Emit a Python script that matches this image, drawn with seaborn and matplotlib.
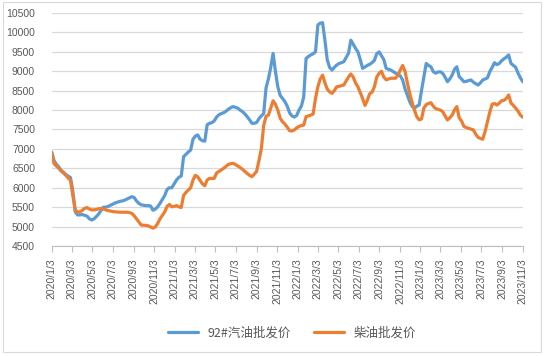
import numpy as np
import pandas as pd
import matplotlib
matplotlib.use("Agg")
import matplotlib.pyplot as plt
import seaborn as sns

# weekly wholesale prices, 2020/1/3 .. 2023/11/3 (yuan/t)
gasoline = [6920, 6700, 6600, 6540, 6450, 6400, 6340, 6300, 6260, 5900,
            5380, 5300, 5300, 5310, 5290, 5270, 5200, 5170, 5200, 5260,
            5330, 5420, 5500, 5500, 5520, 5550, 5580, 5610, 5630, 5650,
            5660, 5680, 5710, 5740, 5770, 5750, 5660, 5600, 5560, 5550,
            5540, 5540, 5530, 5420, 5450, 5510, 5600, 5700, 5800, 5960,
            6000, 6000, 6100, 6200, 6270, 6300, 6800, 6860, 6920, 6970,
            7250, 7330, 7360, 7250, 7210, 7200, 7620, 7660, 7675, 7720,
            7820, 7880, 7910, 7930, 7970, 8020, 8060, 8090, 8070, 8050,
            8000, 7960, 7900, 7830, 7750, 7660, 7660, 7680, 7780, 7850,
            7910, 8570, 8800, 9100, 9460, 8990, 8600, 8380, 8300, 8220,
            8100, 7930, 7850, 7820, 7860, 8000, 8100, 8340, 9330, 9380,
            9420, 9450, 9500, 10190, 10240, 10250, 9800, 9290, 9100, 9030,
            9100, 9160, 9200, 9220, 9245, 9350, 9460, 9800, 9700, 9590,
            9500, 9300, 9075, 9110, 9150, 9180, 9220, 9280, 9450, 9500,
            9400, 9300, 9075, 9050, 9030, 8990, 8950, 8920, 8880, 8775,
            8550, 8380, 8215, 8100, 8045, 8100, 8130, 8500, 8850, 9200,
            9150, 9115, 8990, 8950, 8980, 8985, 8945, 8850, 8730, 8800,
            8900, 9050, 9115, 8860, 8800, 8730, 8740, 8760, 8775, 8720,
            8680, 8645, 8700, 8775, 8800, 8830, 8990, 9100, 9220, 9170,
            9200, 9270, 9320, 9360, 9420, 9200, 9150, 9100, 8950, 8830,
            8730]

diesel = [6900, 6620, 6560, 6500, 6430, 6380, 6320, 6250, 6190, 5800,
          5430, 5370, 5380, 5420, 5470, 5490, 5450, 5430, 5430, 5440,
          5460, 5470, 5450, 5430, 5410, 5400, 5385, 5380, 5375, 5370,
          5370, 5370, 5370, 5360, 5340, 5280, 5200, 5120, 5040, 5035,
          5030, 5020, 4990, 4960, 4990, 5080, 5200, 5290, 5380, 5520,
          5570, 5510, 5520, 5540, 5510, 5490, 5800, 5880, 5940, 6000,
          6200, 6320, 6280, 6190, 6100, 6050, 6200, 6240, 6240, 6240,
          6380, 6420, 6460, 6500, 6550, 6600, 6620, 6630, 6600, 6560,
          6520, 6475, 6420, 6370, 6320, 6285, 6350, 6420, 6700, 7000,
          7600, 7840, 7870, 8050, 8240, 8150, 8000, 7790, 7700, 7640,
          7560, 7470, 7460, 7490, 7540, 7580, 7600, 7615, 7830, 7850,
          7870, 7900, 8300, 8600, 8800, 8900, 8700, 8540, 8470, 8430,
          8500, 8600, 8610, 8630, 8645, 8750, 8850, 8930, 8850, 8700,
          8600, 8450, 8300, 8120, 8250, 8420, 8460, 8600, 8850, 8950,
          9000, 8850, 8780, 8800, 8820, 8820, 8820, 8900, 9030, 9150,
          9000, 8700, 8430, 8200, 8000, 7830, 7750, 7770, 8050, 8140,
          8170, 8190, 8100, 8040, 8020, 8000, 7960, 7850, 7745, 7800,
          7870, 8000, 8090, 7800, 7720, 7580, 7550, 7530, 7510, 7490,
          7380, 7300, 7270, 7250, 7450, 7700, 7950, 8150, 8170, 8130,
          8180, 8240, 8250, 8300, 8390, 8180, 8120, 8050, 7970, 7870,
          7815]

dates = pd.date_range("2020-01-03", periods=len(gasoline), freq="7D")
tick_dates = [pd.Timestamp(y, m, 3) for y in range(2020, 2024) for m in range(1, 13, 2)]
tick_labels = [f"{d.year}/{d.month}/{d.day}" for d in tick_dates]

df = pd.DataFrame({"date": dates, "92#汽油批发价": gasoline, "柴油批发价": diesel})
long_df = df.melt(id_vars="date", var_name="series", value_name="price")

sns.set_style("white")
plt.rcParams["font.family"] = ["Noto Sans CJK SC", "DejaVu Sans"]

fig = plt.figure(figsize=(5.44, 3.56), dpi=100)
ax = fig.add_axes([0.095, 0.309, 0.866, 0.6545])

sns.lineplot(data=long_df, x="date", y="price", hue="series",
             palette=["#5B9BD5", "#ED7D31"], linewidth=2.3, ax=ax)

ax.set_ylim(4500, 10500)
ax.set_yticks(np.arange(4500, 10501, 500))
ax.set_xlim(dates[0], dates[-1])
ax.set_xticks(tick_dates)
ax.set_xticklabels(tick_labels, rotation=90, fontsize=7.5, color="#595959",
                   family=["Liberation Sans", "DejaVu Sans"])
ax.tick_params(axis="y", labelsize=7.5, labelcolor="#595959", length=0, pad=12)
for lbl in ax.get_yticklabels():
    lbl.set_family(["Liberation Sans", "DejaVu Sans"])
ax.tick_params(axis="x", length=4, width=0.8, color="#bfbfbf", pad=5, bottom=True)
ax.grid(axis="y", color="#d9d9d9", linewidth=0.9)
ax.set_axisbelow(True)
for s in ["top", "left", "right"]:
    ax.spines[s].set_visible(False)
ax.spines["bottom"].set_color("#bfbfbf")
ax.set_xlabel("")
ax.set_ylabel("")

handles, labels = ax.get_legend_handles_labels()
ax.legend(handles, labels, loc="center", bbox_to_anchor=(0.51, -0.373), ncol=2,
          frameon=False, fontsize=9, handlelength=2.4, columnspacing=1.8,
          labelcolor="#595959")

fig.patches.append(plt.Rectangle((0.006, 0.01), 0.988, 0.985, transform=fig.transFigure,
                                 fill=False, edgecolor="#d9d9d9", linewidth=0.8))

fig.savefig("out.png", dpi=100)
